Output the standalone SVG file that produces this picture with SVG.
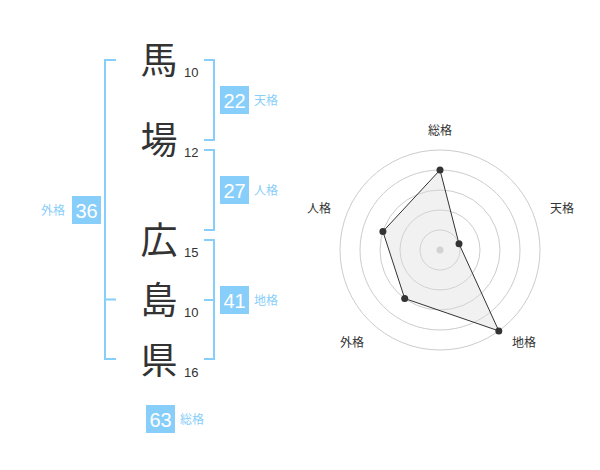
<svg xmlns="http://www.w3.org/2000/svg" width="600" height="470" viewBox="0 0 600 470">
<style>
.kanji{font-family:"Noto Sans CJK JP","Noto Sans",sans-serif;font-size:37px;fill:#333;text-anchor:middle}
.num{font-family:"Liberation Sans",Arial,sans-serif;font-size:13px;fill:#333}
.br{fill:none;stroke:#87cefa;stroke-width:2}
.box{fill:#87cefa}
.bn{font-family:"Liberation Sans",Arial,sans-serif;font-size:20px;fill:#fff;text-anchor:middle}
.bl{font-family:"Noto Sans CJK JP",sans-serif;font-size:12px;fill:#87cefa}
.ring{fill:none;stroke:#ccc;stroke-width:1}
.rl{font-family:"Noto Sans CJK JP",sans-serif;font-size:12px;fill:#333;text-anchor:middle}
.pt{fill:#333}
</style>
<rect width="600" height="470" fill="#fff"/>
<g id="connectors">
<path class="br" d="M116,60 H105 V359 H116 M105,299.5 H116"/>
<path class="br" d="M204,60 H214 V140 H204"/>
<path class="br" d="M204,150 H214 V230 H204"/>
<path class="br" d="M204,240 H214 V359 H204 M204,300 H214"/>
</g>
<g id="char-ma"><text class="kanji" x="159" y="74">馬</text><text class="num" x="184" y="77">10</text></g>
<g id="char-ba"><text class="kanji" x="159" y="154">場</text><text class="num" x="184" y="157">12</text></g>
<g id="char-hiro"><text class="kanji" x="159" y="254">広</text><text class="num" x="184" y="257">15</text></g>
<g id="char-shima"><text class="kanji" x="159" y="314">島</text><text class="num" x="184" y="317">10</text></g>
<g id="char-ken"><text class="kanji" x="159" y="374">県</text><text class="num" x="184" y="377">16</text></g>
<g id="tenkaku"><rect class="box" x="220" y="86" width="29" height="28"/><text class="bn" x="234.5" y="108">22</text><text class="bl" x="254" y="105">天格</text></g>
<g id="jinkaku"><rect class="box" x="220" y="176" width="29" height="28"/><text class="bn" x="234.5" y="198">27</text><text class="bl" x="254" y="195">人格</text></g>
<g id="chikaku"><rect class="box" x="220" y="286" width="29" height="28"/><text class="bn" x="234.5" y="308">41</text><text class="bl" x="254" y="305">地格</text></g>
<g id="gaikaku"><rect class="box" x="72" y="196" width="29" height="28"/><text class="bn" x="86.5" y="218">36</text><text class="bl" x="41" y="215">外格</text></g>
<g id="soukaku"><rect class="box" x="146" y="405" width="29" height="28"/><text class="bn" x="160.5" y="427">63</text><text class="bl" x="180" y="424">総格</text></g>
<g id="radar">
<circle class="ring" cx="440" cy="250" r="20"/>
<circle class="ring" cx="440" cy="250" r="40"/>
<circle class="ring" cx="440" cy="250" r="60"/>
<circle class="ring" cx="440" cy="250" r="80"/>
<circle class="ring" cx="440" cy="250" r="100"/>
<circle cx="440" cy="250" r="3.5" fill="#ccc"/>
<polygon points="440,170 459,243.8 498.8,330.9 404.7,298.5 382.9,231.5" fill="#ddd" fill-opacity="0.4" stroke="#333" stroke-width="1"/>
<circle class="pt" cx="440" cy="170" r="3.5"/>
<circle class="pt" cx="459" cy="243.8" r="3.5"/>
<circle class="pt" cx="498.8" cy="330.9" r="3.5"/>
<circle class="pt" cx="404.7" cy="298.5" r="3.5"/>
<circle class="pt" cx="382.9" cy="231.5" r="3.5"/>
<text class="rl" x="440" y="135">総格</text>
<text class="rl" x="562" y="213">天格</text>
<text class="rl" x="319" y="213">人格</text>
<text class="rl" x="352" y="347">外格</text>
<text class="rl" x="524" y="347">地格</text>
</g>
</svg>
